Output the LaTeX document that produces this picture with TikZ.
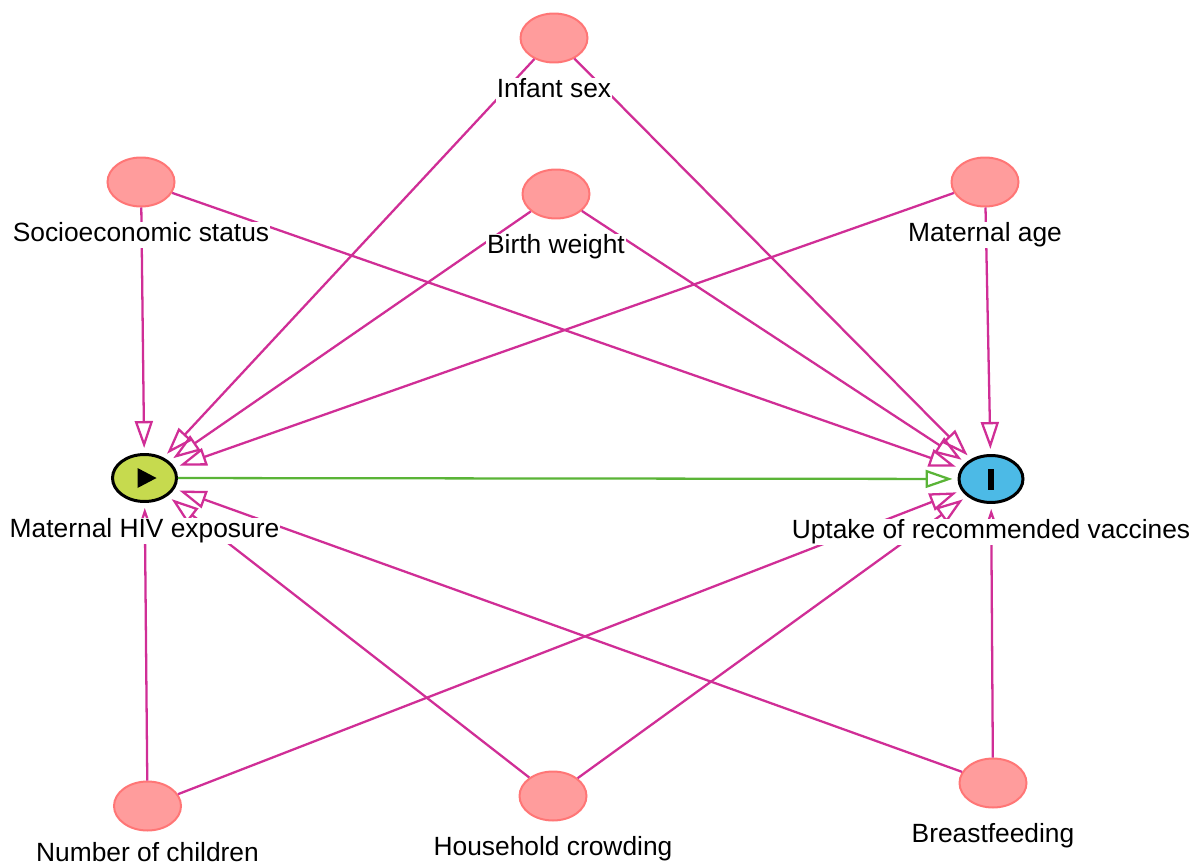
\documentclass[tikz,border=0pt]{standalone}
\usepackage{fontspec}
\setmainfont{Liberation Sans}
\usepackage{xcolor}
\usepackage{tikz}
\usetikzlibrary{shapes,arrows.meta}
\usetikzlibrary{positioning}
\definecolor{edgepink}{RGB}{208,46,150}
\definecolor{edgegreen}{RGB}{90,180,55}
\definecolor{nodepink}{RGB}{255,156,156}
\definecolor{nodepinkdraw}{RGB}{255,118,118}
\definecolor{expofill}{RGB}{198,218,78}
\definecolor{outcfill}{RGB}{76,186,230}
\tikzstyle{confounder} = [ellipse, draw=nodepinkdraw, fill=nodepink,
    line width=0.04cm, inner sep=0pt, minimum width=1.34cm, minimum height=0.98cm]
\tikzstyle{exposure} = [ellipse, draw=black, fill=expofill,
    line width=0.06cm, inner sep=0pt, minimum width=1.28cm, minimum height=0.94cm]
\tikzstyle{outcome} = [exposure, fill=outcfill]
\tikzstyle{lbl} = [fill=white, inner sep=0.5pt, text height=0.38cm,
    text depth=0.11cm, font=\fontsize{15}{18}\selectfont]
\tikzstyle{biasline} = [draw=edgepink, line width=1.3pt,
    -{Triangle[open, length=0.54cm, width=0.36cm]}, shorten >=0.1cm]
\tikzstyle{causalline} = [biasline, draw=edgegreen]

\begin{document}
\begin{tikzpicture}[x=0.02cm, y=-0.02cm, node distance=1.06cm]
  \useasboundingbox (0,0) rectangle (1194,865);
  % Place nodes
  \node [confounder] (inf) at (554,38) {};
  \node [confounder] (ses) at (141,182) {};
  \node [confounder] (bw) at (556,194) {};
  \node [confounder] (mage) at (985,182) {};
  \node [exposure] (expo) at (144.5,478) {};
  \node [outcome] (outc) at (991,479) {};
  \node [confounder] (noc) at (147.5,806) {};
  \node [confounder] (hhc) at (553,796) {};
  \node [confounder] (bf) at (993,783) {};
  % Marks of exposure and outcome
  \fill ([shift={(-7,-10)}]expo.center) -- ([shift={(12,0)}]expo.center)
    -- ([shift={(-7,10)}]expo.center) -- cycle;
  \fill ([shift={(-3.5,-10.5)}]outc.center) rectangle ([shift={(2.5,10.5)}]outc.center);
  % Draw edges
  \path[biasline] (inf) -- (expo);
  \path[biasline] (inf) -- (outc);
  \path[biasline] (ses) -- (expo);
  \path[biasline] (ses) -- (outc);
  \path[biasline] (bw) -- (expo);
  \path[biasline] (bw) -- (outc);
  \path[biasline] (mage) -- (expo);
  \path[biasline] (mage) -- (outc);
  \path[biasline] (noc) -- (expo);
  \path[biasline] (noc) -- (outc);
  \path[biasline] (hhc) -- (expo);
  \path[biasline] (hhc) -- (outc);
  \path[biasline] (bf) -- (expo);
  \path[biasline] (bf) -- (outc);
  \path[causalline] (expo) -- (outc);
  % Labels
  \node [lbl, below of=inf] (infl) {Infant sex};
  \node [lbl, below of=ses] (sesl) {Socioeconomic status};
  \node [lbl, below of=bw] (bwl) {Birth weight};
  \node [lbl, below of=mage] (magel) {Maternal age};
  \node [lbl, below of=expo] (expol) {Maternal HIV exposure};
  \node [lbl, below of=outc] (outcl) {Uptake of recommended vaccines};
  \node [lbl, below of=noc, node distance=0.98cm] (nocl) {Number of children};
  \node [lbl, below of=hhc] (hhcl) {Household crowding};
  \node [lbl, below of=bf] (bfl) {Breastfeeding};
\end{tikzpicture}
\end{document}
